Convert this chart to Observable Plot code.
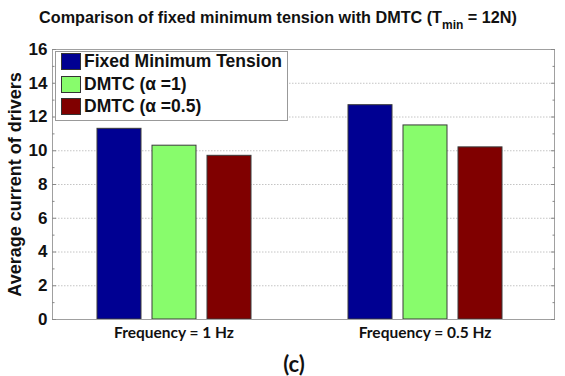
<!DOCTYPE html>
<html><head><meta charset="utf-8">
<script src="https://cdn.jsdelivr.net/npm/d3@7"></script>
<script src="https://cdn.jsdelivr.net/npm/@observablehq/plot@0.6"></script>
<style>
body{margin:0;background:#fff;}
#wrap{position:relative;width:565px;height:376px;overflow:hidden;font-family:"Liberation Sans",Arial,sans-serif;}
#title{position:absolute;left:0;top:8px;width:556px;text-align:center;font-weight:bold;font-size:16.2px;color:#111;white-space:nowrap;}
#title sub{font-size:12px;vertical-align:-6px;line-height:0;}
#chart{position:absolute;left:0;top:0;}
#legend{position:absolute;left:55px;top:51px;width:231px;height:68px;border:1px solid #999;background:#fff;}
.row{position:absolute;left:5px;height:17px;display:flex;align-items:center;font-weight:bold;font-size:17.5px;color:#111;white-space:nowrap;}
.sw{width:18px;height:15px;border:1px solid #333;margin-right:3px;}
#cap{position:absolute;left:244px;width:100px;top:350px;text-align:center;font-family:Lato,"Open Sans",sans-serif;font-weight:bold;font-size:22px;color:#111;}
</style></head><body>
<div id="wrap">
  <div id="chart"></div>
  <div id="title">Comparison of fixed minimum tension with DMTC (T<sub>min</sub> = 12N)</div>
  <div id="legend"></div>
  <div id="cap">(c)</div>
</div>
<script>
const groups = ["Frequency = 1 Hz", "Frequency = 0.5 Hz"];
const series = ["Fixed Minimum Tension", "DMTC (α =1)", "DMTC (α =0.5)"];
const fixedMinimumTension = [11.3, 12.7];
const dmtcAlpha1 = [10.3, 11.5];
const dmtcAlpha05 = [9.7, 10.2];
const seriesValues = [fixedMinimumTension, dmtcAlpha1, dmtcAlpha05];
const colors = ["#000092", "#88fc6c", "#800000"];
const yMajorTicks = [0, 2, 4, 6, 8, 10, 12, 14, 16];
const yMinorTicks = [1, 3, 5, 7, 9, 11, 13, 15];
const yLabel = "Average current of drivers";

const rows = groups.flatMap((g, i) => series.map((s, j) => ({group: g, series: s, value: seriesValues[j][i]})));

const chart = Plot.plot({
  width: 565,
  height: 376,
  marginLeft: 52,
  marginRight: 11,
  marginTop: 49,
  marginBottom: 57,
  style: {fontFamily: "'Liberation Sans', Arial, sans-serif", fontSize: "15px", fontWeight: "bold", color: "#111", background: "transparent"},
  fx: {domain: groups, padding: 0},
  x: {domain: series, paddingInner: 11 / 56, paddingOuter: 0.84, align: 0.47, axis: null},
  y: {domain: [0, 16]},
  color: {domain: series, range: colors},
  marks: [
    Plot.gridY(yMajorTicks, {stroke: "#c4c4c4", strokeOpacity: 1, strokeDasharray: "1.5,1.5"}),
    Plot.barY(rows, {fx: "group", x: "series", y: "value", fill: "series", stroke: "#3a3a3a", strokeWidth: 1}),
    Plot.frame({facet: "super", stroke: "#a0a0a0"}),
    Plot.axisY(yMajorTicks, {anchor: "left", tickSize: 0, tickPadding: 5, label: null, fontSize: 17}),
    Plot.axisY(yMajorTicks, {anchor: "left", tickSize: 0, tickFormat: () => "", label: yLabel, labelAnchor: "center", labelArrow: "none", labelOffset: 44, fontSize: 18}),
    Plot.axisY(yMajorTicks, {anchor: "left", tickSize: -4, fill: "none", label: null, stroke: "#888"}),
    Plot.axisY(yMinorTicks, {anchor: "left", tickSize: -2.5, fill: "none", label: null, stroke: "#888"}),
    Plot.axisY(yMajorTicks, {anchor: "right", tickSize: -4, fill: "none", label: null, stroke: "#888"}),
    Plot.axisY(yMinorTicks, {anchor: "right", tickSize: -2.5, fill: "none", label: null, stroke: "#888"}),
    Plot.axisFx({anchor: "bottom", tickSize: 0, tickPadding: 7, dx: -4, label: null, fontFamily: "Lato, 'Open Sans', sans-serif", fontSize: 15.5, fontWeight: "bold"})
  ]
});
document.getElementById("chart").appendChild(chart);

const legend = document.getElementById("legend");
series.forEach((s, i) => {
  const row = document.createElement("div");
  row.className = "row";
  row.style.top = (1 + i * 22.5) + "px";
  const sw = document.createElement("div");
  sw.className = "sw";
  sw.style.background = colors[i];
  const t = document.createElement("span");
  t.textContent = s;
  row.appendChild(sw);
  row.appendChild(t);
  legend.appendChild(row);
});
</script>
</body></html>
